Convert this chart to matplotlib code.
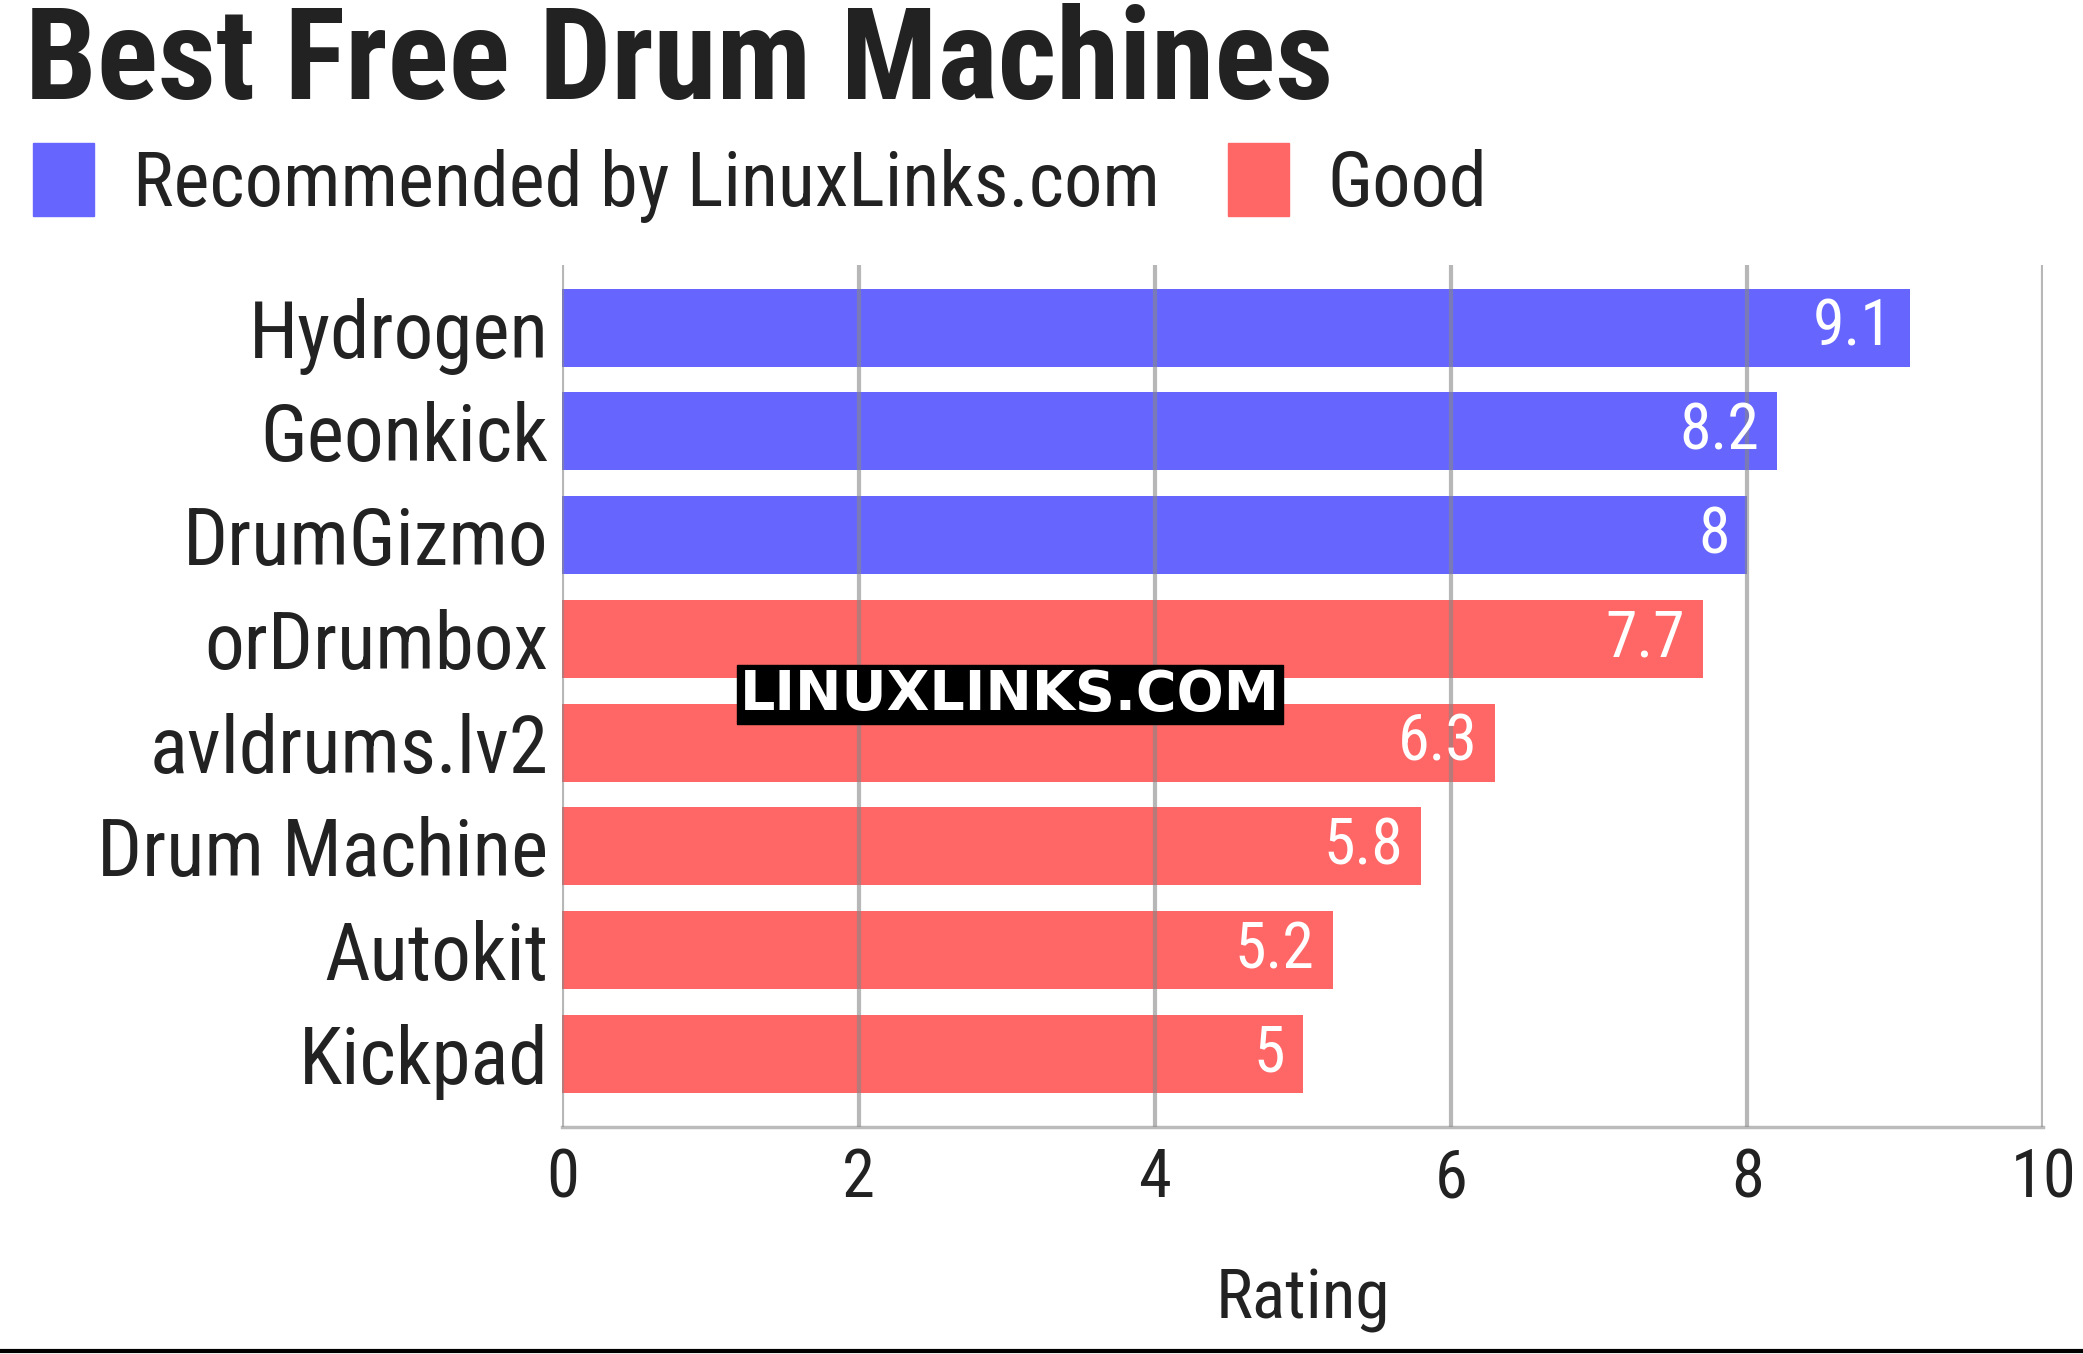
import matplotlib.pyplot as plt
from matplotlib.patches import Patch
from matplotlib.lines import Line2D

# --- DADOS ---
programas = ['Hydrogen', 'Geonkick', 'DrumGizmo', 'orDrumbox', 'avldrums.lv2',
             'Drum Machine', 'Autokit', 'Kickpad']
notas = [9.1, 8.2, 8, 7.7, 6.3, 5.8, 5.2, 5]
categorias = ['rec', 'rec', 'rec', 'good', 'good', 'good', 'good', 'good']
rotulos_notas = ['9.1', '8.2', '8', '7.7', '6.3', '5.8', '5.2', '5']
ticks_x = [0, 2, 4, 6, 8, 10]

CORES = {'rec': '#6666ff', 'good': '#ff6666'}

plt.rcParams['font.family'] = ['Roboto Condensed', 'Liberation Sans Narrow', 'Roboto', 'DejaVu Sans']

fig = plt.figure(figsize=(20.83, 13.54), dpi=100)
ax = fig.add_axes([0.270, 0.168, 0.711, 0.636])

pos = list(range(len(programas)))
ax.barh(pos, notas, height=0.75, color=[CORES[c] for c in categorias], zorder=2)
for p, v, r in zip(pos, notas, rotulos_notas):
    ax.text(v - 0.12, p, r, ha='right', va='center', color='white', fontsize=46, zorder=3)

ax.set_ylim(7.7, -0.6)
ax.set_xlim(0, 10)
ax.set_yticks(pos)
ax.set_yticklabels(programas, fontsize=57, color='#222222')
ax.set_xticks(ticks_x)
ax.set_xticklabels([str(t) for t in ticks_x], fontsize=48, color='#222222')
ax.tick_params(axis='y', length=0, pad=10)
ax.tick_params(axis='x', length=0, pad=15)
ax.set_xlabel('Rating', fontsize=50, color='#222222', labelpad=40)
ax.grid(axis='x', color='#888888', alpha=0.6, linewidth=3, zorder=4)
ax.set_axisbelow(False)
for lado in ['top', 'right', 'left']:
    ax.spines[lado].set_visible(False)
ax.spines['bottom'].set_color('#bbbbbb')
ax.spines['bottom'].set_linewidth(2.5)

fig.text(0.012, 0.953, 'Best Free Drum Machines', fontsize=92, fontweight='bold',
         color='#222222', va='center', ha='left')

handles = [Patch(color=CORES['rec'], label='Recommended by LinuxLinks.com'),
           Patch(color=CORES['good'], label='Good')]
fig.legend(handles=handles, loc='center left', bbox_to_anchor=(-0.017, 0.865),
           frameon=False, fontsize=55, handlelength=0.8, handleheight=1.1,
           handletextpad=0.5, columnspacing=0.9, ncol=2, labelcolor='#222222')

fig.text(0.485, 0.487, 'LINUXLINKS.COM', fontsize=40, fontweight='bold', color='white',
         ha='center', va='center', family=['DejaVu Sans'],
         bbox=dict(facecolor='black', edgecolor='black', pad=2))

fig.add_artist(Line2D([0, 1], [0.002, 0.002], color='black', linewidth=3))

fig.savefig('out.png', dpi=100)
